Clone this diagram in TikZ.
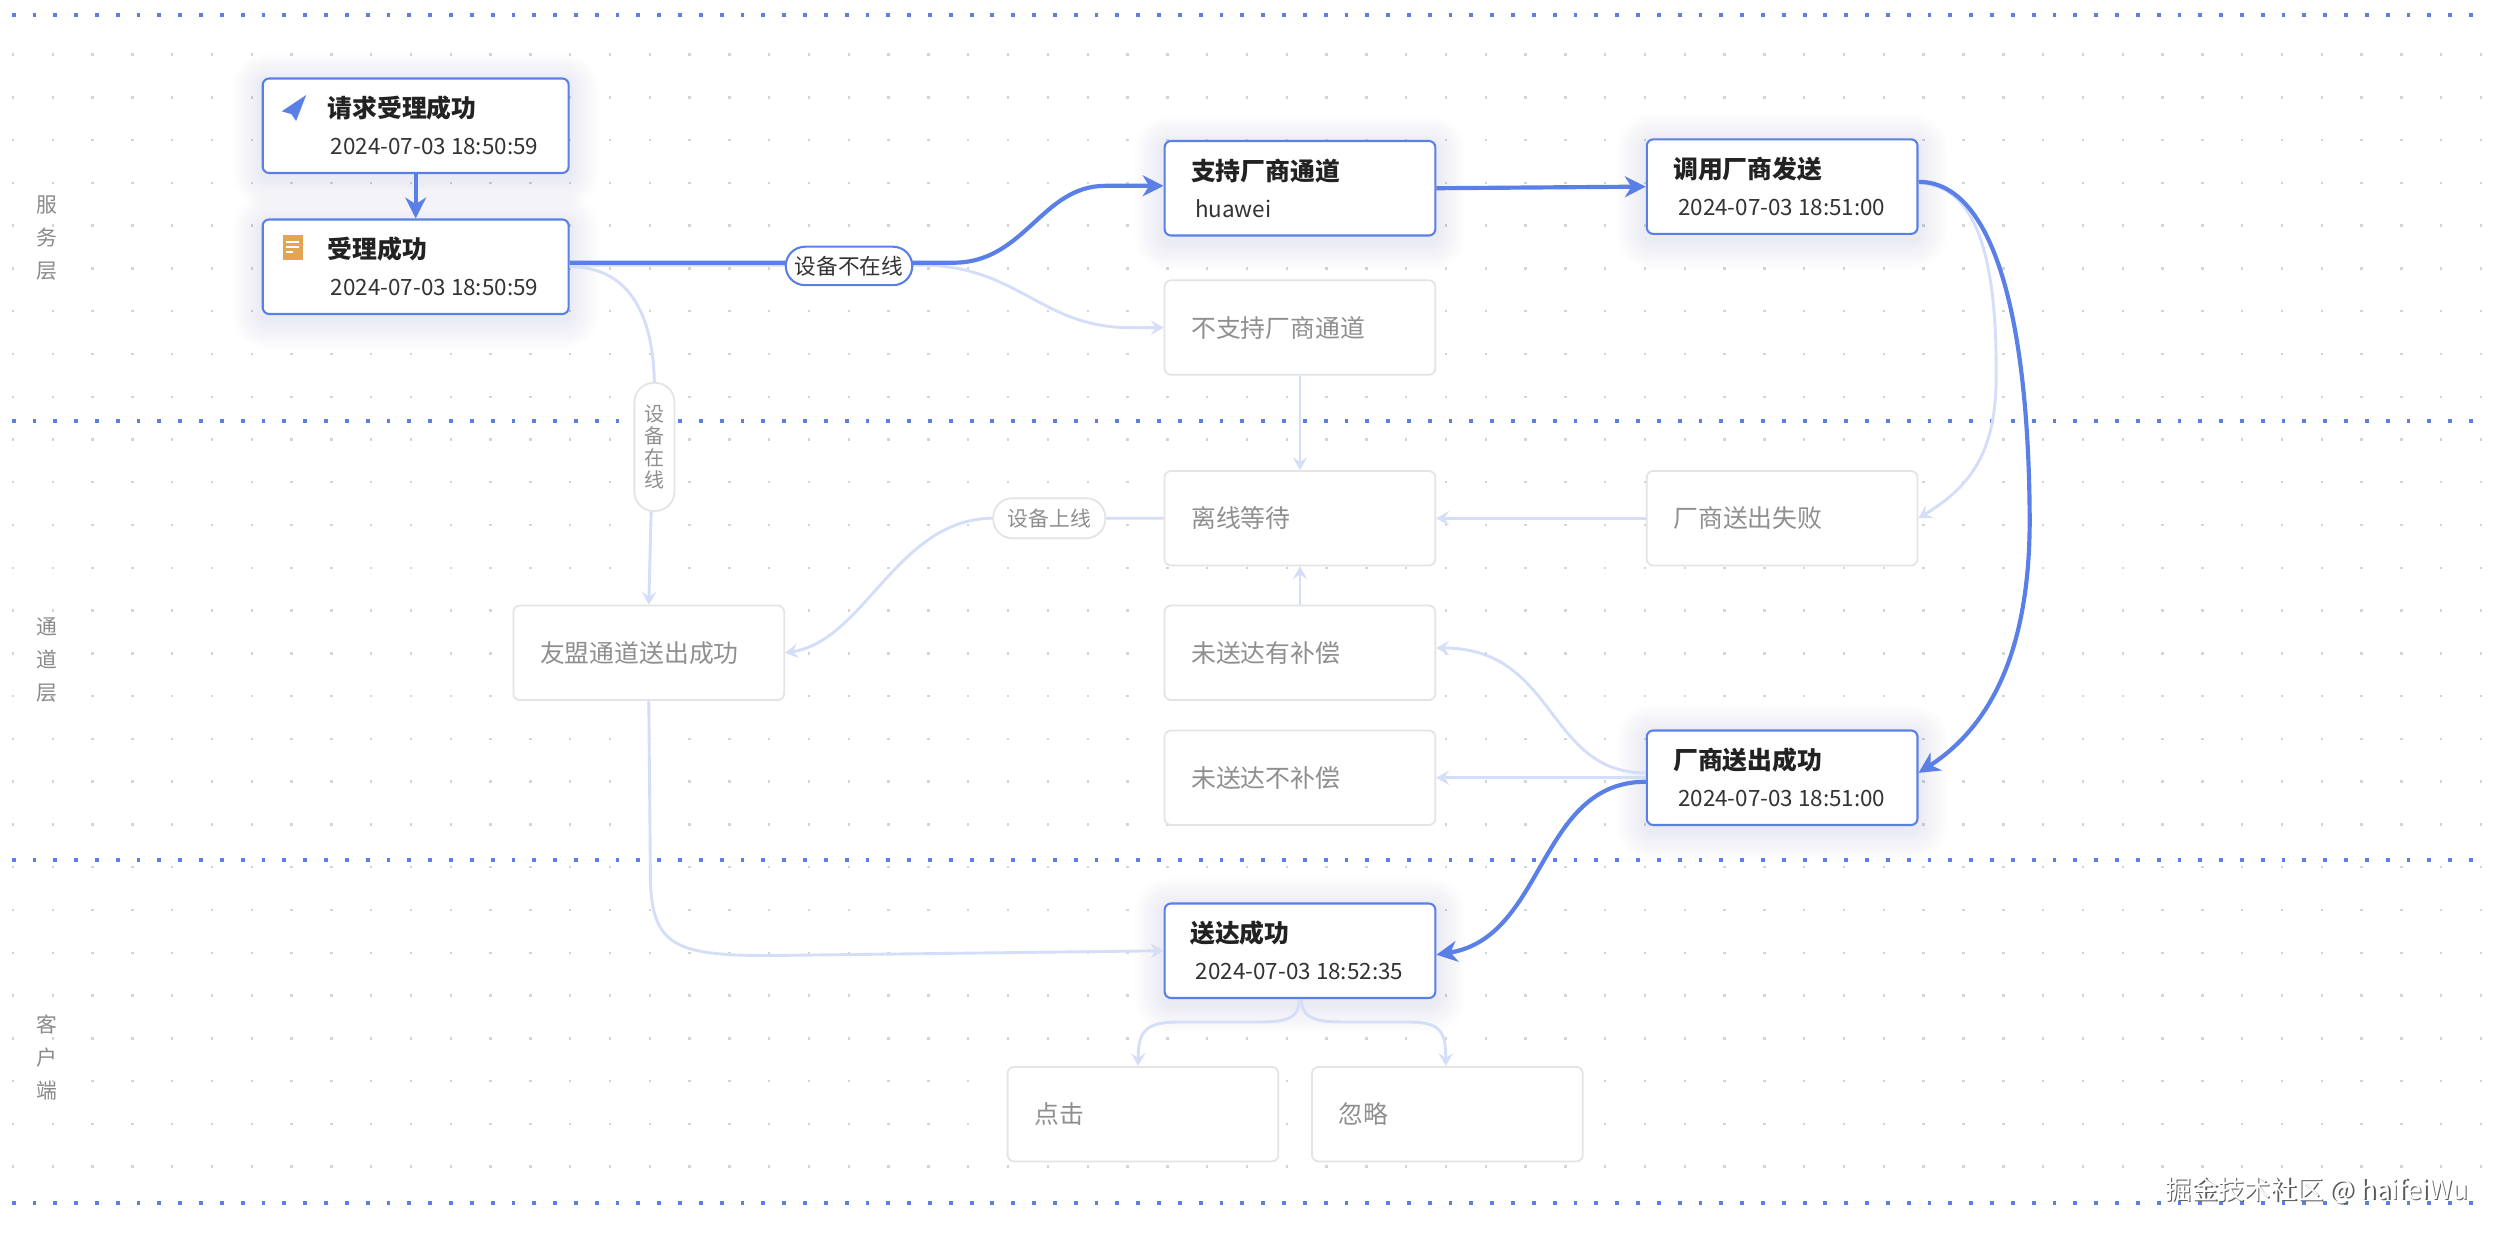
\documentclass[tikz,border=0pt]{standalone}
\usepackage{fontspec}
\setmainfont{Noto Sans CJK SC}
\usetikzlibrary{arrows.meta,calc}
\definecolor{actblue}{HTML}{5A80E8}
\definecolor{liteblue}{HTML}{D4DEF9}
\definecolor{boxgray}{HTML}{E4E4E4}
\definecolor{graytext}{HTML}{8F8F8F}
\definecolor{darktext}{HTML}{222222}
\definecolor{datetext}{HTML}{333333}
\definecolor{griddot}{HTML}{D4D4D4}
\definecolor{lanedot}{HTML}{5A80E8}
\definecolor{shadowc}{HTML}{6878A8}
\definecolor{iconorange}{HTML}{E2A650}
\definecolor{lanetext}{HTML}{8A8A8A}
\pgfdeclarelayer{back}
\pgfsetlayers{back,main}
\newcommand\ttlsize{\fontsize{15.5}{18}\selectfont\bfseries}
\newcommand\dtsize{\fontsize{14}{16}\selectfont}
\newcommand\gsize{\fontsize{15.5}{18}\selectfont}
\begin{document}
\begin{tikzpicture}[x=1pt,y=-1pt,
  box/.style={rectangle, rounded corners=4pt, minimum width=169pt, minimum height=59pt, inner sep=0pt, fill=white},
  actbox/.style={box, draw=actblue, line width=1.3pt},
  inbox/.style={box, draw=boxgray, line width=1.1pt},
  ttl/.style={anchor=west, inner sep=0pt, text=darktext, font=\ttlsize},
  dt/.style={anchor=west, inner sep=0pt, text=datetext, font=\dtsize},
  gt/.style={anchor=west, inner sep=0pt, text=graytext, font=\gsize},
  mainflow/.style={draw=actblue, line width=2.6pt, -{Stealth[length=13pt,width=13pt,inset=4pt]}},
  liteflow/.style={draw=liteblue, line width=1.8pt, -{Stealth[length=8pt,width=9pt,inset=3pt]}},
  pillA/.style={rectangle, rounded corners=12pt, draw=actblue, line width=1.3pt, fill=white, minimum width=79pt, minimum height=24pt, inner sep=0pt, text=datetext, font=\fontsize{13.5}{15}\selectfont},
  pillB/.style={rectangle, rounded corners=12pt, draw=boxgray, line width=1.1pt, fill=white, minimum width=70pt, minimum height=25pt, inner sep=0pt, text=graytext, font=\fontsize{13}{15}\selectfont},
  pillV/.style={rectangle, rounded corners=12pt, draw=boxgray, line width=1.1pt, fill=white, minimum width=25pt, minimum height=80pt, inner sep=0pt, text=graytext, align=center, font=\fontsize{12.5}{13.6}\selectfont},
  lanelbl/.style={inner sep=0pt, align=center, text=lanetext, font=\fontsize{13}{20.7}\selectfont}
]
\useasboundingbox (0,0) rectangle (1560,771.5);
\begin{pgfonlayer}{back}
\fill[white] (0,0) rectangle (1560,771.5);
\foreach \gx in {0,...,62}{
  \foreach \gy in {0,...,26}{
    \fill[griddot] (7.3+\gx*24.85,33.3+\gy*26.7) rectangle +(1.5,1.5);
  }
}
\foreach \ly in {9.5,263,537,751}{
  \foreach \li in {0,...,118}{
    \fill[lanedot] (7.3+\li*13,\ly-1.2) rectangle +(2.4,2.4);
  }
}
\end{pgfonlayer}

% lane labels
\node[lanelbl] (L1) at (29,148.5) {服\\务\\层};
\node[lanelbl] (L2) at (29,412) {通\\道\\层};
\node[lanelbl] (L3) at (29,660) {客\\户\\端};

% nodes
\node[actbox, minimum width=191pt] (n1) at (259.5,78.5) {};
\node[ttl] (t1) at ($(n1.west)+(41,-11)$) {请求受理成功};
\node[dt] (d1) at ($(n1.west)+(43,13)$) {2024-07-03 18:50:59};
\begin{scope}[shift={(n1.west)}]
  \fill[actblue] (27.8,-19.2) -- (12.5,-9) -- (18.5,-7.3) -- (21.5,-3) -- cycle;
\end{scope}

\node[actbox, minimum width=191pt] (n2) at (259.5,166.5) {};
\node[ttl] (t2) at ($(n2.west)+(41,-11)$) {受理成功};
\node[dt] (d2) at ($(n2.west)+(43,13)$) {2024-07-03 18:50:59};
\begin{scope}[shift={(n2.west)}]
  \fill[iconorange] (13.4,-19.8) rectangle (25.6,-4.2);
  \draw[white, line width=1.2pt] (15.4,-15.6) -- (23.4,-15.6) (15.4,-12.4) -- (23.4,-12.4) (15.4,-9.2) -- (19.6,-9.2);
\end{scope}

\node[actbox] (n3) at (811.5,117.5) {};
\node[ttl] (t3) at ($(n3.west)+(17,-11)$) {支持厂商通道};
\node[dt] (d3) at ($(n3.west)+(19.5,13)$) {huawei};

\node[actbox] (n4) at (1112.5,116.5) {};
\node[ttl] (t4) at ($(n4.west)+(17,-11)$) {调用厂商发送};
\node[dt] (d4) at ($(n4.west)+(20,13)$) {2024-07-03 18:51:00};

\node[inbox] (n5) at (811.5,204.5) {};
\node[gt] (t5) at ($(n5.west)+(17,0)$) {不支持厂商通道};

\node[inbox] (n6) at (811.5,323.5) {};
\node[gt] (t6) at ($(n6.west)+(17,0)$) {离线等待};

\node[inbox] (n7) at (1112.5,323.5) {};
\node[gt] (t7) at ($(n7.west)+(17,0)$) {厂商送出失败};

\node[inbox] (n8) at (405,407.5) {};
\node[gt] (t8) at ($(n8.west)+(17,0)$) {友盟通道送出成功};

\node[inbox] (n9) at (811.5,407.5) {};
\node[gt] (t9) at ($(n9.west)+(17,0)$) {未送达有补偿};

\node[inbox] (n10) at (811.5,485.5) {};
\node[gt] (t10) at ($(n10.west)+(17,0)$) {未送达不补偿};

\node[actbox] (n11) at (1112.5,485.5) {};
\node[ttl] (t11) at ($(n11.west)+(17,-11)$) {厂商送出成功};
\node[dt] (d11) at ($(n11.west)+(20,13)$) {2024-07-03 18:51:00};

\node[actbox] (n12) at (811.5,593.5) {};
\node[ttl] (t12) at ($(n12.west)+(16.5,-11)$) {送达成功};
\node[dt] (d12) at ($(n12.west)+(20,13)$) {2024-07-03 18:52:35};

\node[inbox] (n13) at (713.5,695.5) {};
\node[gt] (t13) at ($(n13.west)+(17,0)$) {点击};

\node[inbox] (n14) at (903.5,695.5) {};
\node[gt] (t14) at ($(n14.west)+(17,0)$) {忽略};

% shadows
\begin{pgfonlayer}{back}
\foreach \n in {n1,n2,n3,n4,n11,n12}{
  \foreach \i in {1,...,10}{
    \pgfmathsetmacro\ee{\i*1.8}
    \pgfmathsetmacro\rr{4+\ee}
    \fill[shadowc, opacity=0.012, rounded corners=\rr pt] ($(\n.north west)+(-\ee,-\ee+3)$) rectangle ($(\n.south east)+(\ee,\ee+3)$);
  }
}
\end{pgfonlayer}

% light connectors
\draw[liteflow] (n2.east) .. controls (395,166.5) and (408,200) .. (408.5,240) -- (n8.north);
\draw[liteflow] ($(n2.east)+(0,-1)$) -- (575,165.5) .. controls (635,165.5) and (650,204.5) .. (705,204.5) -- (n5.west);
\draw[liteflow] ($(n4.east)+(0,-2)$) .. controls (1240,114.5) and (1247,180) .. (1246,240) .. controls (1245,285) and (1228,305) .. (n7.east);
\draw[liteflow] (n5.south) -- (n6.north);
\draw[liteflow] (n7.west) -- (n6.east);
\draw[liteflow] (n6.west) -- (620,323.5) .. controls (560,323.5) and (540,400) .. (n8.east);
\draw[liteflow] (n9.north) -- (n6.south);
\draw[liteflow] ($(n11.west)+(0,-3)$) .. controls (965,482.5) and (972,404.5) .. ($(n9.east)+(0,-3)$);
\draw[liteflow] (n11.west) -- (n10.east);
\draw[liteflow] (n8.south) -- (406,545) .. controls (406,590) and (420,596.5) .. (480,596.5) -- (n12.west);
\draw[liteflow] ($(n12.south)+(-0.5,0)$) .. controls (811,638) and (800,638) .. (780,638) -- (735,638) .. controls (714,638) and (710.5,645) .. ($(n13.north)+(-3,0)$);
\draw[liteflow] ($(n12.south)+(1,0)$) .. controls (812.5,638) and (825,638) .. (845,638) -- (880,638) .. controls (900,638) and (902.5,645) .. ($(n14.north)+(-1,0)$);

% main connectors
\draw[mainflow] (n1.south) -- (n2.north);
\draw[mainflow] ($(n2.east)+(0,-2.5)$) -- (595,164) .. controls (640,164) and (650,116) .. (690,116) -- ($(n3.west)+(0,-1.5)$);
\draw[mainflow] (n3.east) -- (n4.west);
\draw[mainflow] ($(n4.east)+(0,-3)$) .. controls (1245,113.5) and (1266,200) .. (1267,320) .. controls (1268,410) and (1240,455) .. ($(n11.east)+(0,-3)$);
\draw[mainflow] ($(n11.west)+(0,2.5)$) .. controls (960,488) and (965,585) .. ($(n12.east)+(0,2.5)$);

% edge labels
\node[pillA] (p1) at (530,166) {设备不在线};
\node[pillB] (p2) at (655,323.5) {设备上线};
\node[pillV] (p3) at (408.5,279) {设\\备\\在\\线};

% watermark
\node[anchor=east, inner sep=0pt, text=black!65, font=\fontsize{16.5}{18}\selectfont] (wms) at (1541.9,743.9) {掘金技术社区 @ haifeiWu};
\node[anchor=east, inner sep=0pt, text=white, font=\fontsize{16.5}{18}\selectfont] (wm) at (1541,743) {掘金技术社区 @ haifeiWu};
\end{tikzpicture}
\end{document}
